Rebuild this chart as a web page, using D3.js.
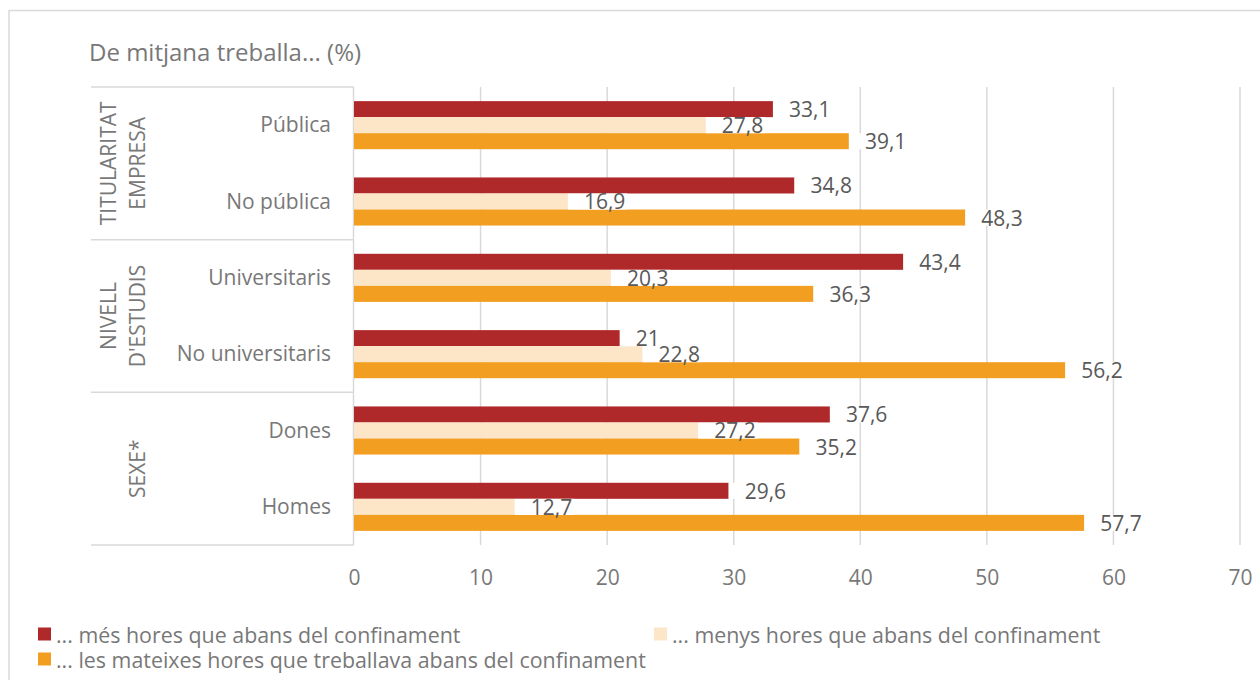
<!DOCTYPE html>
<html>
<head>
<meta charset="utf-8">
<script src="https://cdn.jsdelivr.net/npm/d3@7"></script>
<style>
  body { margin: 0; background: #fff; }
  svg { display: block; font-family: "Open Sans", sans-serif; }
</style>
</head>
<body>
<svg id="chart" width="1260" height="680"></svg>
<script>
// categories, top to bottom
var categories = ["Pública", "No pública", "Universitaris", "No universitaris", "Dones", "Homes"];

// row groups drawn on the left (rotated labels, one or two lines)
var groups = [
    { lines: ["TITULARITAT", "EMPRESA"], cats: ["Pública", "No pública"] },
    { lines: ["NIVELL", "D'ESTUDIS"], cats: ["Universitaris", "No universitaris"] },
    { lines: ["SEXE*"], cats: ["Dones", "Homes"] }
];

var seriesKeys = ["mes", "menys", "mateixes"];
var seriesNames = [
    "... més hores que abans del confinament",
    "... menys hores que abans del confinament",
    "... les mateixes hores que treballava abans del confinament"
];

// values per series, same order as categories
var mesHores      = [33.1, 34.8, 43.4, 21.0, 37.6, 29.6];
var menysHores    = [27.8, 16.9, 20.3, 22.8, 27.2, 12.7];
var mateixesHores = [39.1, 48.3, 36.3, 56.2, 35.2, 57.7];

var xTicks = [0, 10, 20, 30, 40, 50, 60, 70];

var svg = d3.select("#chart");

var plotLeft = 354, plotRight = 1240, plotTop = 87, plotBottom = 545;
var grid = "#d9d9d9";
var textGrey = "#787878";

var rows = categories.map(function (c, i) {
    return { cat: c, mes: mesHores[i], menys: menysHores[i], mateixes: mateixesHores[i] };
});

var x = d3.scaleLinear().domain([0, 70]).range([plotLeft, plotRight]);
var y = d3.scaleBand().domain(categories).range([plotTop, plotBottom])
    .paddingInner(0.37).paddingOuter(0.185);
var ySub = d3.scaleBand().domain(seriesKeys).range([0, y.bandwidth()]);
var color = d3.scaleOrdinal(seriesKeys, ["#b0292a", "#fde5c8", "#f29f21"]);

// outer frame
svg.append("rect")
    .attr("x", 9).attr("y", 10.5)
    .attr("width", 1260).attr("height", 700)
    .attr("fill", "none").attr("stroke", grid).attr("stroke-width", 1.5);

// title
svg.append("text")
    .attr("x", 89).attr("y", 61)
    .style("font-size", "24px").style("fill", textGrey)
    .text("De mitjana treballa... (%)");

// vertical gridlines
svg.append("g").selectAll("line")
    .data(xTicks.slice(1))
    .enter().append("line")
    .attr("x1", d => x(d)).attr("x2", d => x(d))
    .attr("y1", plotTop).attr("y2", plotBottom)
    .attr("stroke", grid).attr("stroke-width", 1.5);

// x axis tick labels only
var xAxis = svg.append("g")
    .attr("transform", `translate(0,${plotBottom})`)
    .call(d3.axisBottom(x).tickValues(xTicks).tickSize(0).tickPadding(25));
xAxis.select(".domain").remove();
xAxis.selectAll("text")
    .style("font-size", "21px").style("fill", textGrey)
    .style("font-family", "Open Sans, sans-serif");

// group table on the left
var groupEdges = [plotTop];
groups.forEach(function (g, i) {
    groupEdges.push(plotTop + (i + 1) * (plotBottom - plotTop) / groups.length);
});
svg.append("g").selectAll("line")
    .data(groupEdges)
    .enter().append("line")
    .attr("x1", 91).attr("x2", plotLeft)
    .attr("y1", d => d).attr("y2", d => d)
    .attr("stroke", grid).attr("stroke-width", 1.5);
svg.append("line")
    .attr("x1", plotLeft - 0.5).attr("x2", plotLeft - 0.5)
    .attr("y1", plotTop).attr("y2", plotBottom)
    .attr("stroke", grid).attr("stroke-width", 1.5);

groups.forEach(function (g) {
    var cy = (y(g.cats[0]) + y(g.cats[g.cats.length - 1]) + y.bandwidth()) / 2;
    var xs = g.lines.length === 2 ? [108, 137] : [137];
    g.lines.forEach(function (line, j) {
        svg.append("text")
            .attr("transform", `translate(${xs[j]},${cy}) rotate(-90)`)
            .attr("text-anchor", "middle")
            .attr("dominant-baseline", "central")
            .style("font-size", "21px").style("fill", textGrey)
            .text(line);
    });
});

// category labels
svg.append("g").selectAll("text")
    .data(categories)
    .enter().append("text")
    .attr("x", 331)
    .attr("y", d => y(d) + y.bandwidth() / 2 - 1)
    .attr("text-anchor", "end")
    .attr("dominant-baseline", "central")
    .style("font-size", "21px").style("fill", textGrey)
    .text(d => d);

// bars
var rowG = svg.append("g").selectAll("g")
    .data(rows)
    .enter().append("g")
    .attr("transform", d => `translate(0,${y(d.cat)})`);

rowG.selectAll("rect.bar")
    .data(d => seriesKeys.map(k => ({ key: k, value: d[k] })))
    .enter().append("rect")
    .attr("class", "bar")
    .attr("x", x(0))
    .attr("y", d => ySub(d.key))
    .attr("width", d => x(d.value) - x(0))
    .attr("height", ySub.bandwidth())
    .attr("fill", d => color(d.key));

// value labels, each on a white box
var fmt = d => String(d).replace(".", ",");
rowG.each(function (row) {
    var g = d3.select(this);
    seriesKeys.forEach(function (k) {
        var v = row[k];
        var t = g.append("text")
            .attr("x", x(v) + 16)
            .attr("y", ySub(k) + ySub.bandwidth() / 2)
            .attr("dominant-baseline", "central")
            .style("font-size", "21px").style("fill", "#595959")
            .text(fmt(v));
        var bb = t.node().getBBox();
        g.insert("rect", "text")
            .attr("x", x(v))
            .attr("y", ySub(k))
            .attr("width", bb.x + bb.width + 2 - x(v))
            .attr("height", ySub.bandwidth())
            .attr("fill", "#fff");
    });
});

// legend
var legendPos = [[38, 634], [654, 634], [38, 659]];
var legend = svg.append("g").selectAll("g")
    .data(seriesKeys)
    .enter().append("g")
    .attr("transform", (d, i) => `translate(${legendPos[i][0]},${legendPos[i][1]})`);
legend.append("rect")
    .attr("x", 0).attr("y", -6.5)
    .attr("width", 13).attr("height", 13)
    .attr("fill", d => color(d));
legend.append("text")
    .attr("x", 18).attr("y", 0)
    .attr("dominant-baseline", "central")
    .style("font-size", "21.4px").style("fill", textGrey)
    .text((d, i) => seriesNames[i]);
</script>
</body>
</html>
